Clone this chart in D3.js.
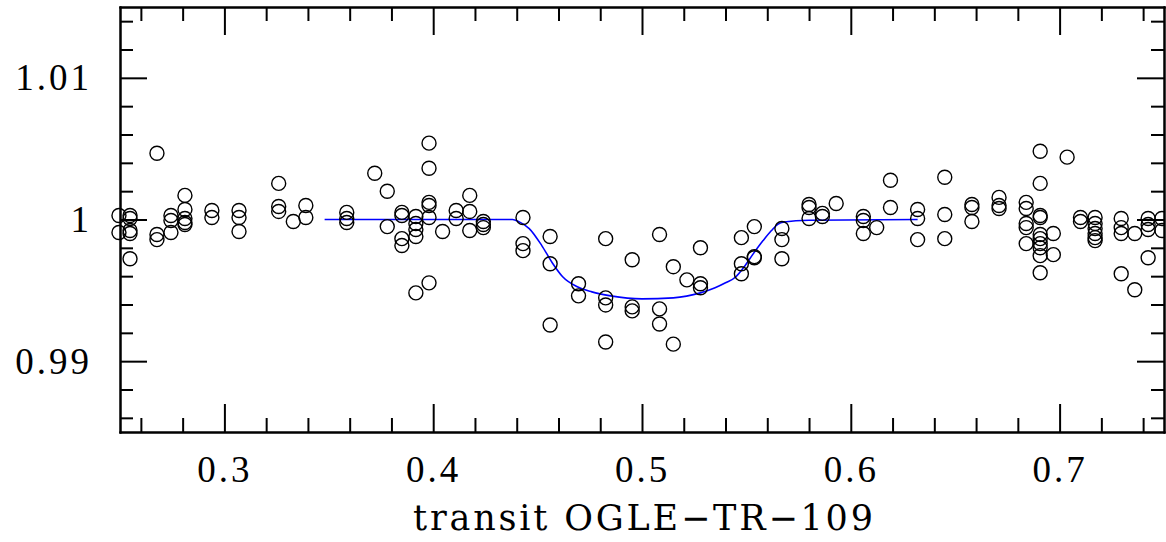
<!DOCTYPE html>
<html>
<head>
<meta charset="utf-8">
<script src="https://cdn.jsdelivr.net/npm/d3@7"></script>
<style>
  body { margin: 0; background: #fff; }
  svg { display: block; }
  .axis text { font-family: "Liberation Serif", "DejaVu Serif", serif; font-size: 37px; fill: #000; letter-spacing: 3px; }
  .axis path, .axis line { stroke: #000; stroke-width: 2; }
</style>
</head>
<body>
<script>
// measured points, one entry per circle
const phase = [
  0.2495, 0.2495,
  0.2548, 0.2548, 0.2548, 0.2548, 0.2548,
  0.2677, 0.2677, 0.2677,
  0.2744, 0.2744, 0.2744,
  0.2811, 0.2811, 0.2811, 0.2811, 0.2811,
  0.294, 0.294,
  0.307, 0.307, 0.307,
  0.326, 0.326, 0.326,
  0.333,
  0.339, 0.339,
  0.3586, 0.3586, 0.3586,
  0.372,
  0.378, 0.378,
  0.385, 0.385, 0.385, 0.385,
  0.3917, 0.3917, 0.3917, 0.3917, 0.3917,
  0.398, 0.398, 0.398, 0.398, 0.398, 0.398,
  0.4045,
  0.411, 0.411,
  0.4175, 0.4175, 0.4175,
  0.424, 0.424, 0.424,
  0.443, 0.443, 0.443,
  0.456, 0.456, 0.456,
  0.4696, 0.4696,
  0.4826, 0.4826, 0.4826, 0.4826,
  0.4953, 0.4953, 0.4953,
  0.5084, 0.5084, 0.5084,
  0.515, 0.515,
  0.5215,
  0.528, 0.528, 0.528,
  0.5476, 0.5476, 0.5476,
  0.5538, 0.5538, 0.5538,
  0.567, 0.567, 0.567,
  0.58, 0.58, 0.58,
  0.5864, 0.5864,
  0.593,
  0.606, 0.606, 0.606,
  0.6124,
  0.619, 0.619,
  0.632, 0.632, 0.632,
  0.645, 0.645, 0.645,
  0.658, 0.658, 0.658,
  0.671, 0.671, 0.671,
  0.684, 0.684, 0.684, 0.684, 0.684,
  0.6907, 0.6907, 0.6907, 0.6907, 0.6907, 0.6907, 0.6907, 0.6907, 0.6907, 0.6907,
  0.697, 0.697,
  0.7036,
  0.710, 0.710,
  0.717, 0.717, 0.717, 0.717, 0.717, 0.717,
  0.7295, 0.7295, 0.7295, 0.7295,
  0.736, 0.736,
  0.7424, 0.7424, 0.7424, 0.7424,
  0.749, 0.749
];
const flux = [
  1.00028, 0.99908,
  1.00028, 1.00007, 0.99922, 0.99901, 0.99723,
  1.00468, 0.99894, 0.99858,
  1.00028, 0.99993, 0.99908,
  1.0017, 1.00071, 1.00007, 0.99979, 0.99965,
  1.00064, 1.00014,
  1.00064, 1.00014, 0.99915,
  1.00255, 1.00092, 1.00057,
  0.99986,
  1.00099, 1.00014,
  1.0005, 1.00007, 0.99979,
  1.00326,
  1.00199, 0.9995,
  1.0005, 1.00028, 0.99865, 0.99816,
  1.00021, 0.99972, 0.99929, 0.9988, 0.99482,
  1.00539, 1.00362, 1.00121, 1.00099, 1.00014, 0.99553,
  0.99915,
  1.00064, 1.00007,
  1.0017, 1.00057, 0.99922,
  0.99986, 0.99965, 0.99943,
  1.00014, 0.9983, 0.9978,
  0.9988, 0.99688, 0.99255,
  0.99546, 0.99461,
  0.99865, 0.99447, 0.99397, 0.99135,
  0.99716, 0.99383, 0.99355,
  0.99894, 0.99369, 0.99262,
  0.99667, 0.9912,
  0.99574,
  0.99801, 0.99546, 0.99518,
  0.99872, 0.99688, 0.99617,
  0.9995, 0.99738, 0.9973,
  0.99936, 0.99858, 0.99723,
  1.00106, 1.00085, 1.00007,
  1.00043, 1.00021,
  1.00113,
  1.00021, 0.99993, 0.99901,
  0.99943,
  1.00277, 1.00085,
  1.00071, 1.00007, 0.99858,
  1.00298, 1.00035, 0.99865,
  1.00106, 1.00085, 0.99986,
  1.00156, 1.00099, 1.00078,
  1.00121, 1.00078, 0.99972, 0.99943, 0.9983,
  1.00482, 1.00255, 1.00028, 1.00014, 0.99894, 0.99865, 0.9983, 0.99801, 0.99745, 0.99624,
  0.99901, 0.99752,
  1.0044,
  1.00014, 0.99986,
  1.00014, 0.99972, 0.99936, 0.99901, 0.99872, 0.99851,
  1.00007, 0.99943, 0.99901, 0.99617,
  0.99901, 0.99504,
  1.00007, 0.99965, 0.99929, 0.9973,
  1.00007, 0.99922
];

// transit model
const modelPhase = [0.348, 0.438, 0.441, 0.446, 0.452, 0.457, 0.462, 0.469, 0.476, 0.485, 0.5,
  0.515, 0.528, 0.535, 0.54, 0.545, 0.549, 0.553, 0.558, 0.562, 0.565, 0.568, 0.58, 0.632];
const modelFlux = [1.0, 1.0, 0.99985, 0.99936, 0.99816, 0.99695, 0.99596, 0.99525, 0.99489, 0.99461, 0.9944,
  0.99447, 0.99482, 0.99518, 0.99553, 0.99596, 0.99667, 0.99752, 0.99851, 0.99922, 0.99965, 0.99982, 0.99995, 1.0];

const xMajor = [0.3, 0.4, 0.5, 0.6, 0.7];
const xMinor = [0.26, 0.28, 0.32, 0.34, 0.36, 0.38, 0.42, 0.44, 0.46, 0.48,
  0.52, 0.54, 0.56, 0.58, 0.62, 0.64, 0.66, 0.68, 0.72, 0.74];
const yMajor = [0.99, 1, 1.01];
const yMinor = [0.986, 0.988, 0.992, 0.994, 0.996, 0.998, 1.002, 1.004, 1.006, 1.008, 1.012, 1.014];
const xTitle = "transit OGLE\u2212TR\u2212109";

function plot_lightcurve(width=1166, height=542) {
    const margin = {left: 120, right: 2, top: 7, bottom: 110};
    const svg = d3.select("body")
        .append("svg")
        .attr("width", width)
        .attr("height", height);

    const x = d3.scaleLinear().domain([0.25, 0.75]).range([margin.left, width - margin.right]);
    const y = d3.scaleLinear().domain([0.985, 1.015]).range([height - margin.bottom, margin.top]);

    svg.append("clipPath").attr("id", "frame")
        .append("rect")
        .attr("x", x.range()[0] - 9).attr("y", y.range()[1])
        .attr("width", x.range()[1] - x.range()[0] + 9)
        .attr("height", y.range()[0] - y.range()[1]);

    // model curve
    const line = d3.line()
        .x(d => x(d[0]))
        .y(d => y(d[1]))
        .curve(d3.curveMonotoneX);

    svg.append("path")
        .datum(d3.zip(modelPhase, modelFlux))
        .attr("fill", "none")
        .attr("stroke", "#0000ff")
        .attr("stroke-width", 1.6)
        .attr("d", line);

    // data points
    svg.append("g")
        .attr("clip-path", "url(#frame)")
        .attr("fill", "none")
        .attr("stroke", "black")
        .attr("stroke-width", 1.4)
        .selectAll("circle")
        .data(d3.zip(phase, flux))
        .join("circle")
        .attr("cx", d => x(d[0]))
        .attr("cy", d => y(d[1]))
        .attr("r", 7);

    const x0 = x.range()[0], x1 = x.range()[1];
    const y0 = y.range()[0], y1 = y.range()[1];
    const fmt = d => String(d);

    // bottom
    svg.append("g").attr("class", "axis").attr("transform", `translate(0,${y0})`)
        .call(d3.axisBottom(x).tickValues(xMinor).tickSize(-14).tickSizeOuter(0).tickFormat(""));
    const bottom = svg.append("g").attr("class", "axis").attr("transform", `translate(0,${y0})`)
        .call(d3.axisBottom(x).tickValues(xMajor).tickSize(-28).tickSizeOuter(0).tickFormat(fmt));
    bottom.selectAll("text").attr("y", 37).attr("dy", "0.35em");

    // top
    svg.append("g").attr("class", "axis").attr("transform", `translate(0,${y1})`)
        .call(d3.axisTop(x).tickValues(xMinor).tickSize(-14).tickSizeOuter(0).tickFormat(""));
    svg.append("g").attr("class", "axis").attr("transform", `translate(0,${y1})`)
        .call(d3.axisTop(x).tickValues(xMajor).tickSize(-28).tickSizeOuter(0).tickFormat(""));

    // left
    svg.append("g").attr("class", "axis").attr("transform", `translate(${x0},0)`)
        .call(d3.axisLeft(y).tickValues(yMinor).tickSize(-13).tickSizeOuter(0).tickFormat(""));
    svg.append("g").attr("class", "axis").attr("transform", `translate(${x0},0)`)
        .call(d3.axisLeft(y).tickValues(yMajor).tickSize(-27).tickSizeOuter(0).tickPadding(28).tickFormat(fmt));

    // right
    svg.append("g").attr("class", "axis").attr("transform", `translate(${x1},0)`)
        .call(d3.axisRight(y).tickValues(yMinor).tickSize(-13).tickSizeOuter(0).tickFormat(""));
    svg.append("g").attr("class", "axis").attr("transform", `translate(${x1},0)`)
        .call(d3.axisRight(y).tickValues(yMajor).tickSize(-27).tickSizeOuter(0).tickFormat(""));

    svg.selectAll(".domain").attr("stroke-linecap", "square");

    svg.append("text")
        .attr("x", 643)
        .attr("y", 530)
        .attr("text-anchor", "middle")
        .attr("font-family", "DejaVu Serif, Liberation Serif, serif")
        .attr("font-size", 35)
        .attr("textLength", 460)
        .attr("lengthAdjust", "spacing")
        .text(xTitle);
}

plot_lightcurve();
</script>
</body>
</html>
